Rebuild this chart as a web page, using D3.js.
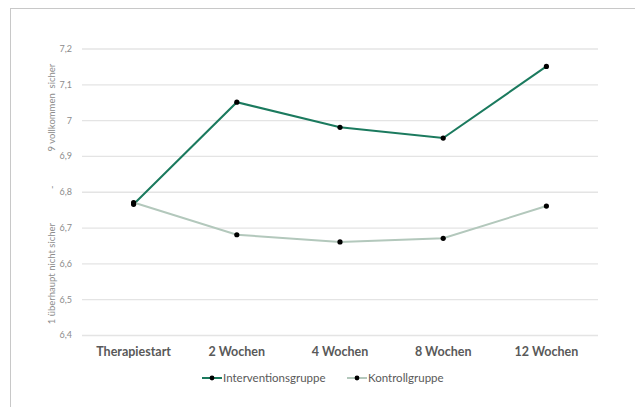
<!DOCTYPE html>
<html><head><meta charset="utf-8">
<script src="https://cdn.jsdelivr.net/npm/d3@7"></script>
<style>body{margin:0;background:#fff}svg{display:block}</style>
</head><body>
<svg id="c" width="635" height="407"></svg>
<script>
const categories = ["Therapiestart","2 Wochen","4 Wochen","8 Wochen","12 Wochen"];
const intervention = [6.765, 7.05, 6.98, 6.95, 7.15];
const kontroll = [6.77, 6.68, 6.66, 6.67, 6.76];
const yTicks = [6.4,6.5,6.6,6.7,6.8,6.9,7.0,7.1,7.2];
const seriesNames = ["Interventionsgruppe","Kontrollgruppe"];

const svg = d3.select("#c");
svg.append("rect").attr("x",10.5).attr("y",8.5).attr("width",640).attr("height",420)
  .attr("fill","#fff").attr("stroke","#c8c8c8").attr("stroke-width",1);

const x = d3.scaleBand().domain(categories).range([82,598]);
const y = d3.scaleLinear().domain([6.4,7.2]).range([335,48.5]);

const fmt = v => (Math.round(v*10)/10).toString().replace(".",",");
const yAxis = d3.axisLeft(y).tickValues(yTicks).tickSize(-(598-82)).tickFormat(fmt).tickPadding(10);
const gy = svg.append("g").attr("transform","translate(82,0)").call(yAxis);
gy.select(".domain").remove();
gy.selectAll(".tick line").attr("stroke","#e4e4e4").attr("stroke-width",1.3);
gy.selectAll(".tick text").attr("fill","#8c8c8c").attr("font-family","Lato, 'Open Sans', sans-serif").attr("font-size",9);

const xAxis = d3.axisBottom(x).tickSize(0).tickPadding(12);
const gx = svg.append("g").attr("transform","translate(0,335)").call(xAxis);
gx.select(".domain").remove();
gx.selectAll(".tick text").attr("fill","#595959").attr("font-family","Lato, 'Open Sans', sans-serif")
  .attr("font-size",12.5).attr("font-weight","bold");

// y-axis title
svg.append("text").attr("transform","translate(55,194) rotate(-90)")
  .attr("text-anchor","middle").attr("fill","#8c8c8c")
  .attr("font-family","Lato, 'Open Sans', sans-serif").attr("font-size",9.5)
  .style("white-space","pre")
  .text("1 überhaupt nicht sicher              -              9 vollkommen  sicher");

const cx = d => x(d) + x.bandwidth()/2;
const colors = ["#1b7a5e","#b3c8bc"];
[intervention, kontroll].forEach((vals,i)=>{
  const data = categories.map((c,j)=>({c, v: vals[j]}));
  const line = d3.line().x(d=>cx(d.c)).y(d=>y(d.v));
  svg.append("path").datum(data).attr("d",line).attr("fill","none")
    .attr("stroke",colors[i]).attr("stroke-width",2);
});
[intervention, kontroll].forEach((vals)=>{
  svg.append("g").selectAll("circle").data(categories.map((c,j)=>({c,v:vals[j]})))
    .join("circle").attr("cx",d=>cx(d.c)).attr("cy",d=>y(d.v)).attr("r",2.6).attr("fill","#000");
});

// legend
const legX = [202, 347];
seriesNames.forEach((n,i)=>{
  const g = svg.append("g").attr("transform",`translate(${legX[i]},378)`);
  g.append("line").attr("x1",0).attr("x2",20).attr("y1",0).attr("y2",0)
    .attr("stroke",colors[i]).attr("stroke-width",2);
  g.append("circle").attr("cx",10).attr("cy",0).attr("r",2.4).attr("fill","#000");
  g.append("text").attr("x",21).attr("y",4).attr("fill","#595959")
    .attr("font-family","Lato, 'Open Sans', sans-serif").attr("font-size",11.5).text(n);
});
</script>
</body></html>
